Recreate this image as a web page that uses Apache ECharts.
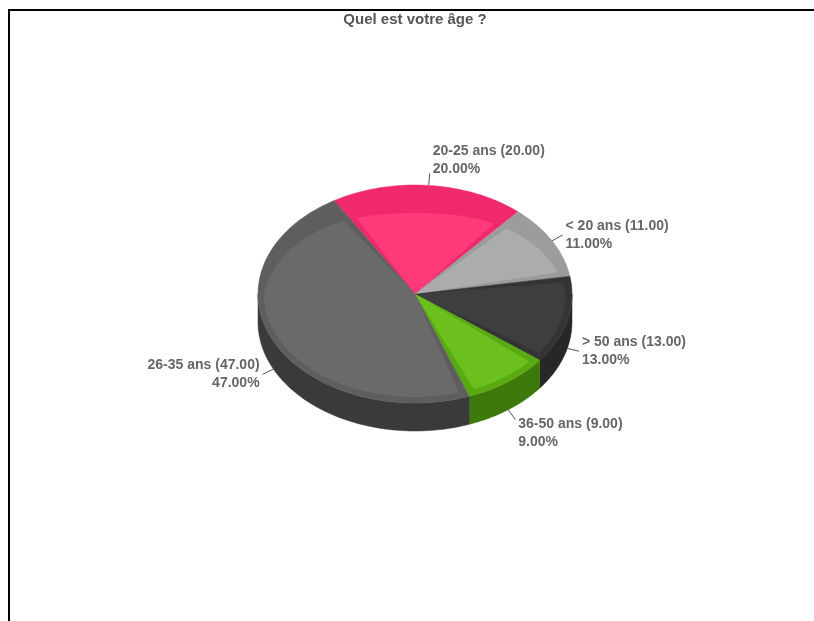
<!DOCTYPE html>
<html><head><meta charset="utf-8">
<script src="https://cdn.jsdelivr.net/npm/echarts@6/dist/echarts.min.js"></script>
<style>html,body{margin:0;padding:0;background:#fff}#c{width:814px;height:621px}</style>
</head><body><div id="c"></div>
<script>
const titleText = 'Quel est votre âge ?';
const categories = ['20-25 ans', '< 20 ans', '> 50 ans', '36-50 ans', '26-35 ans'];
const values = [20, 11, 13, 9, 47];

const topColors = ['#f0296c', '#9c9c9c', '#343434', '#58a912', '#5e5e5e'];
const innerColors = ['#fe3a79', '#acacac', '#3e3e3e', '#6bc01e', '#6a6a6a'];
const sideColors = ['#b01d50', '#6e6e6e', '#272727', '#3d780a', '#3a3a3a'];

const CX = 415, CY = 294, RX = 157, RY = 109, DEPTH = 28, START = 121;
const LABEL_FONT = 'bold 14px "Liberation Sans", Arial, sans-serif';
const total = values.reduce((a, b) => a + b, 0);
const rad = d => d * Math.PI / 180;
function pt(deg, dy) { return [CX + RX * Math.cos(rad(deg)), CY - RY * Math.sin(rad(deg)) + (dy || 0)]; }
function arc(from, to, dy) {
  const n = Math.max(2, Math.ceil(Math.abs(from - to) / 1.5));
  const pts = [];
  for (let k = 0; k <= n; k++) pts.push(pt(from + (to - from) * k / n, dy));
  return pts;
}
function renderItem(params, api) {
  const i = params.dataIndex;
  let cum = 0; for (let k = 0; k < i; k++) cum += values[k];
  const v = api.value(0);
  const a0 = START - cum / total * 360, a1 = a0 - v / total * 360;
  const children = [];
  for (let k = -2; k <= 1; k++) {
    const lo = -180 + 360 * k, hi = 360 * k;
    const s = Math.min(a0, hi), e = Math.max(a1, lo);
    if (s > e) {
      children.push({type: 'polygon', z2: 1, shape: {points: arc(s, e, 0).concat(arc(e, s, DEPTH))},
        style: {fill: sideColors[i], stroke: sideColors[i], lineWidth: 0.5}});
    }
  }
  children.push({type: 'polygon', z2: 5, shape: {points: [[CX, CY]].concat(arc(a0, a1, 0))},
    style: {fill: topColors[i], stroke: topColors[i], lineWidth: 0.5}});
  const span = a0 - a1;
  const ins = Math.min(3, span * 0.15);
  const innerPts = [[CX, CY]];
  const n = Math.ceil((span - 2 * ins) / 1.5);
  for (let k = 0; k <= n; k++) {
    const d = a0 - ins - (span - 2 * ins) * k / n;
    const p = pt(d, 0);
    const dx = p[0] - CX, dy = p[1] - CY, dist = Math.hypot(dx, dy);
    const band = 6 + 22 * Math.max(0, Math.sin(rad(d)));
    const t = 1 - band / dist;
    innerPts.push([CX + dx * t, CY + dy * t]);
  }
  children.push({type: 'polygon', z2: 6, shape: {points: innerPts}, style: {fill: innerColors[i]}});
  const m = (a0 + a1) / 2, c = Math.cos(rad(m)), s = Math.sin(rad(m));
  const anchor = pt(m, s < 0 ? DEPTH : 0);
  const end = [anchor[0] + 12 * c, anchor[1] - 12 * s];
  children.push({type: 'line', z2: 10, shape: {x1: anchor[0], y1: anchor[1], x2: end[0], y2: end[1]},
    style: {stroke: '#555', lineWidth: 1}});
  const align = c >= 0 ? 'left' : 'right';
  const tx = end[0] + (c >= 0 ? 3 : -3);
  let va = 'middle', ty = end[1];
  if (s > 0.7) { va = 'bottom'; ty = end[1] + 5; } else if (s < -0.7) { va = 'top'; ty = end[1] - 4; }
  children.push({type: 'text', z2: 10, style: {x: tx, y: ty,
    text: categories[i] + ' (' + v.toFixed(2) + ')\n' + (v / total * 100).toFixed(2) + '%',
    align: align, verticalAlign: va, font: LABEL_FONT, fill: '#666', lineHeight: 18}});
  return {type: 'group', children: children};
}

const chart = echarts.init(document.getElementById('c'), null, {renderer: 'canvas'});
chart.setOption({
  animation: false,
  backgroundColor: '#fff',
  graphic: [
    {type: 'line', shape: {x1: 8, y1: 10, x2: 814, y2: 10}, style: {stroke: '#000', lineWidth: 2}},
    {type: 'line', shape: {x1: 9, y1: 10, x2: 9, y2: 621}, style: {stroke: '#000', lineWidth: 2}},
    {type: 'text', style: {x: 415, y: 20, text: titleText, align: 'center', verticalAlign: 'middle',
      font: 'bold 15px "Liberation Sans", Arial, sans-serif', fill: '#555'}}
  ],
  series: [{
    type: 'custom',
    coordinateSystem: 'none',
    renderItem: renderItem,
    data: values.map(v => [v])
  }]
});
</script></body></html>
